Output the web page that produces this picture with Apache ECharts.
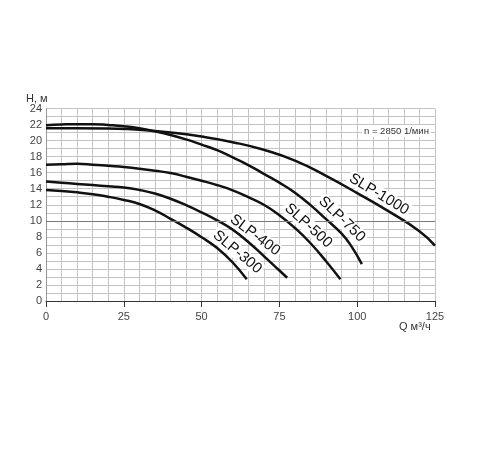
<!DOCTYPE html>
<html><head><meta charset="utf-8">
<script src="https://cdn.jsdelivr.net/npm/echarts@6/dist/echarts.min.js"></script>
<style>html,body{margin:0;padding:0;background:#fff}#c{width:500px;height:450px}</style>
</head><body><div id="c"></div>
<script>
// Flow Q (m3/h) and head H (m) for each pump
const q1000 = [0,10,20,30,40,50,60,70,80,90,100,110,120,125];
const h1000 = [21.55,21.55,21.5,21.35,21.0,20.5,19.8,18.85,17.5,15.6,13.45,11.2,8.7,6.9];
const q750 = [0,5,10,15,20,25,30,35,40,45,50,55,60,65,70,75,80,85,90,95,98,101.5];
const h750 = [21.9,22.0,22.05,22.05,21.95,21.8,21.55,21.15,20.7,20.15,19.5,18.8,17.9,16.95,15.85,14.75,13.5,11.95,10.2,8.4,6.9,4.6];
const q500 = [0,5,10,15,20,25,30,35,40,45,50,55,60,65,70,75,80,85,90,94.6];
const h500 = [17.0,17.05,17.1,17.0,16.85,16.7,16.5,16.25,15.95,15.5,15.0,14.45,13.8,12.95,12.0,10.7,9.1,7.2,4.95,2.7];
const q400 = [0,5,10,15,20,25,30,35,40,45,50,55,60,65,70,75,77.5];
const h400 = [14.9,14.75,14.6,14.45,14.3,14.15,13.85,13.4,12.75,11.95,11.05,10.05,8.9,7.35,5.6,3.8,2.9];
const q300 = [0,5,10,15,20,25,30,35,40,45,50,55,60,64.5];
const h300 = [13.85,13.72,13.55,13.32,13.0,12.6,12.1,11.3,10.25,9.15,7.95,6.6,4.8,2.7];
const seriesNames = ['SLP-1000','SLP-750','SLP-500','SLP-400','SLP-300'];
const yMajorLines = [10];

const pairs = (q,h) => q.map((v,i)=>[v,h[i]]);
const curves = [pairs(q1000,h1000),pairs(q750,h750),pairs(q500,h500),pairs(q400,h400),pairs(q300,h300)];
const labelPos = [[107,13.3,-31],[95.1,10.2,-44],[84.3,9.4,-42],[67.2,8.2,-37],[61.5,6.1,-40]];

const font = 'Liberation Sans, Arial, sans-serif';
const chart = echarts.init(document.getElementById('c'));
const series = curves.map((d,i)=>({
    type:'line',name:seriesNames[i],data:d,smooth:true,showSymbol:false,
    xAxisIndex:0,yAxisIndex:0,
    lineStyle:{color:'#111',width:2.5},z:3,
    markPoint:{symbol:'circle',symbolSize:0,silent:true,z:5,
      data:[{coord:[labelPos[i][0],labelPos[i][1]]}],
      label:{show:true,position:'inside',formatter:seriesNames[i],rotate:labelPos[i][2],
        color:'#111',fontFamily:font,fontSize:15,backgroundColor:'#fff',padding:[0,2]}}
  }));
series.unshift({type:'line',data:[],z:1,silent:true,xAxisIndex:0,yAxisIndex:0,
  markLine:{silent:true,symbol:'none',label:{show:false},animation:false,
    lineStyle:{color:'#7a7a7a',width:1,type:'solid'},
    data:yMajorLines.map(v=>({yAxis:v}))}});
chart.setOption({
  animation:false,
  grid:{left:46,right:65,top:108.5,bottom:149,containLabel:false},
  xAxis:[
    {type:'value',min:0,max:125,interval:5,axisLine:{show:false},axisTick:{show:false},axisLabel:{show:false},
     splitLine:{show:true,lineStyle:{color:'#c4c4c4',width:1}}},
    {type:'value',min:0,max:125,interval:25,position:'bottom',
     axisLine:{show:true,onZero:false,lineStyle:{color:'#333',width:1}},
     axisTick:{show:true,length:6,lineStyle:{color:'#333'}},
     axisLabel:{color:'#444',fontFamily:font,fontSize:11,margin:10},
     splitLine:{show:false}}
  ],
  yAxis:[
    {type:'value',min:0,max:24,interval:1,axisLine:{show:false},axisTick:{show:false},axisLabel:{show:false},
     splitLine:{show:true,lineStyle:{color:'#c4c4c4',width:1}}},
    {type:'value',min:0,max:24,interval:2,position:'left',
     axisLine:{show:true,onZero:false,lineStyle:{color:'#999',width:1}},
     axisTick:{show:false},
     axisLabel:{color:'#444',fontFamily:font,fontSize:11,margin:4},
     splitLine:{show:false}}
  ],
  series:series,
  graphic:[
    {type:'text',left:26,top:93,style:{text:'H, м',fill:'#333',font:'11px '+font}},
    {type:'text',left:399,top:321,style:{text:'Q м³/ч',fill:'#333',font:'11px '+font}},
    {type:'text',left:362,top:125,z:10,style:{text:'n = 2850 1/мин',fill:'#333',font:'9.5px '+font,backgroundColor:'#fff',padding:[1,2]}}
  ]
});
</script></body></html>
